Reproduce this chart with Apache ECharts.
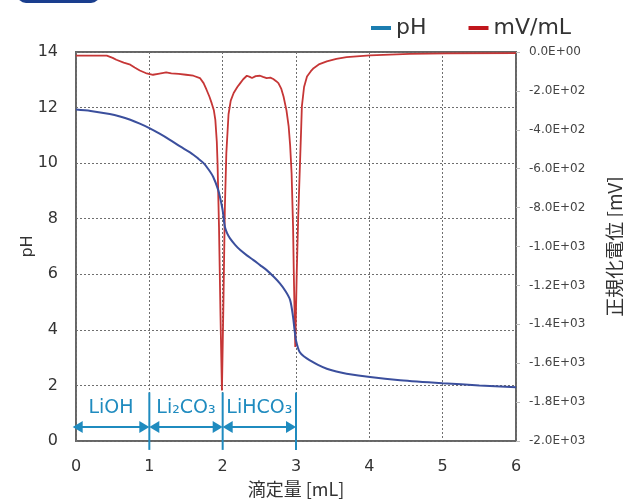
<!DOCTYPE html>
<html>
<head>
<meta charset="utf-8">
<script src="https://cdn.jsdelivr.net/npm/echarts@6/dist/echarts.min.js"></script>
<style>
  html, body { margin: 0; padding: 0; background: #fff; }
  #main { width: 623px; height: 499px; }
</style>
</head>
<body>
<div id="main"></div>
<script>
// 滴定量 [mL] / pH
var phData = [
  [0, 11.93], [0.2, 11.88], [0.46, 11.77], [0.6, 11.68], [0.74, 11.56], [0.87, 11.42],
  [1.0, 11.26], [1.14, 11.06], [1.28, 10.84], [1.42, 10.6], [1.56, 10.38], [1.66, 10.18],
  [1.74, 10.0], [1.80, 9.8], [1.87, 9.51], [1.94, 9.03], [1.97, 8.7], [2.0, 8.3],
  [2.03, 7.71], [2.06, 7.48], [2.10, 7.29], [2.17, 7.06], [2.24, 6.87], [2.33, 6.68],
  [2.42, 6.51], [2.51, 6.33], [2.60, 6.15], [2.70, 5.9], [2.78, 5.67], [2.86, 5.38],
  [2.92, 5.07], [2.96, 4.46], [2.98, 4.0], [3.0, 3.62], [3.05, 3.20], [3.12, 3.02],
  [3.19, 2.90], [3.3, 2.74], [3.42, 2.60], [3.55, 2.5], [3.69, 2.42], [4.01, 2.30],
  [4.42, 2.19], [5.0, 2.08], [5.5, 2.0], [6.0, 1.93]
];
// 滴定量 [mL] / 正規化電位 [mV]
var mvData = [
  [0, -19], [0.2, -19], [0.42, -19], [0.5, -30], [0.55, -40], [0.65, -55], [0.74, -65],
  [0.8, -80], [0.87, -95], [0.95, -108], [1.05, -117], [1.12, -112], [1.23, -105],
  [1.3, -110], [1.4, -112], [1.5, -117], [1.6, -122], [1.69, -134], [1.74, -160],
  [1.78, -194], [1.82, -230], [1.85, -263], [1.88, -300], [1.90, -349], [1.92, -460],
  [1.93, -570], [1.95, -900], [1.97, -1350], [1.99, -1740], [2.01, -1300], [2.03, -800],
  [2.05, -520], [2.08, -320], [2.11, -250], [2.15, -211], [2.2, -180], [2.24, -160],
  [2.28, -140], [2.33, -122], [2.37, -128], [2.40, -134], [2.45, -124], [2.51, -122],
  [2.55, -128], [2.60, -134], [2.65, -132], [2.69, -139], [2.73, -150], [2.76, -160],
  [2.8, -190], [2.83, -229], [2.87, -300], [2.90, -383], [2.92, -480], [2.94, -623],
  [2.96, -900], [2.97, -1139], [2.99, -1517], [3.01, -1138], [3.03, -850], [3.05, -623],
  [3.07, -400], [3.08, -280], [3.11, -180], [3.15, -126], [3.2, -100], [3.24, -83],
  [3.32, -62], [3.42, -48], [3.55, -35], [3.69, -26], [4.01, -17], [4.55, -10],
  [5.05, -7], [6.0, -6]
];
// 区間ラベル [start, end, name index]
var regionNames = ['LiOH', 'Li₂CO₃', 'LiHCO₃'];
var regionSpans = [[-0.045, 1, 0], [1, 2, 1], [2, 3, 2]];
var regionMarks = [1, 2, 3];
var xTicks = [0, 1, 2, 3, 4, 5, 6];
var phTicks = [0, 2, 4, 6, 8, 10, 12, 14];
var mvTicks = [-2000, 0]; // step 200

var annColor = '#1f8bbf';
var txt = '#333';
var arrowPh = 0.5;

function sciLabel(v) {
  var s = Number(v).toExponential(1);   // "-2.0e+2"
  var p = s.split('e');
  var e = p[1];
  var sign = e.charAt(0) === '-' ? '-' : '+';
  var d = e.replace('+', '').replace('-', '');
  if (d.length < 2) d = '0' + d;
  return p[0] + 'E' + sign + d;
}

function renderSpan(params, api) {
  var a = api.coord([api.value(0), arrowPh]);
  var b = api.coord([api.value(1), arrowPh]);
  var y = a[1], h = 6, l = 10;
  return {
    type: 'group',
    children: [
      { type: 'line', shape: { x1: a[0] + 6, y1: y, x2: b[0] - 6, y2: y },
        style: { stroke: annColor, lineWidth: 2 } },
      { type: 'polygon', shape: { points: [[a[0], y], [a[0] + l, y - h], [a[0] + l, y + h]] },
        style: { fill: annColor } },
      { type: 'polygon', shape: { points: [[b[0], y], [b[0] - l, y - h], [b[0] - l, y + h]] },
        style: { fill: annColor } },
      { type: 'text',
        style: { text: regionNames[api.value(2)], x: (a[0] + b[0]) / 2, y: y - 10,
          align: 'center', verticalAlign: 'bottom',
          fontSize: 19, fontFamily: 'DejaVu Sans', fill: annColor } }
    ]
  };
}

function renderMark(params, api) {
  var t = api.coord([api.value(0), 1.75]);
  var b = api.coord([api.value(0), -0.32]);
  return { type: 'line', shape: { x1: t[0], y1: t[1], x2: b[0], y2: b[1] },
    style: { stroke: annColor, lineWidth: 2 } };
}

var chart = echarts.init(document.getElementById('main'));
chart.setOption({
  animation: false,
  backgroundColor: '#fff',
  graphic: [{
    type: 'rect', left: 17, top: -16,
    shape: { width: 83, height: 19, r: 9 },
    style: { fill: '#1a3e8e' }
  }],
  legend: {
    left: 366, top: 12,
    icon: 'rect', itemWidth: 20, itemHeight: 4, itemGap: 42,
    textStyle: { fontSize: 22, color: txt, fontFamily: 'DejaVu Sans' },
    data: [
      { name: 'pH', itemStyle: { color: '#1c7db0' } },
      { name: 'mV/mL', itemStyle: { color: '#c0161c' } }
    ]
  },
  grid: {
    left: 76, right: 107, top: 52, bottom: 58,
    outerBoundsMode: 'none', containLabel: false,
    show: true, borderColor: '#666', borderWidth: 2, backgroundColor: 'transparent'
  },
  xAxis: {
    type: 'value', min: xTicks[0], max: xTicks[xTicks.length - 1], interval: 1,
    name: '滴定量 [mL]', nameLocation: 'middle', nameGap: 36,
    nameTextStyle: { fontSize: 18, color: txt, fontFamily: 'Noto Sans CJK JP' },
    axisLine: { show: false }, axisTick: { show: false },
    axisLabel: { fontSize: 16, color: txt, margin: 18, fontFamily: 'DejaVu Sans' },
    splitLine: { show: true, lineStyle: { color: '#6f6f6f', type: [2, 2], width: 1 } }
  },
  yAxis: [{
    type: 'value', min: phTicks[0], max: phTicks[phTicks.length - 1], interval: 2,
    name: 'pH', nameLocation: 'middle', nameGap: 40, nameMoveOverlap: false,
    nameTextStyle: { fontSize: 16, color: txt, fontFamily: 'DejaVu Sans' },
    axisLine: { show: false }, axisTick: { show: false },
    axisLabel: { fontSize: 16, color: txt, margin: 18, fontFamily: 'DejaVu Sans' },
    splitLine: { show: true, lineStyle: { color: '#6f6f6f', type: [2, 2], width: 1 } }
  }, {
    type: 'value', min: mvTicks[0], max: mvTicks[1], interval: 200,
    position: 'right',
    name: '正規化電位 [mV]', nameLocation: 'middle', nameGap: 89,
    nameTextStyle: { fontSize: 19, color: txt, fontFamily: 'Noto Sans CJK JP' },
    axisLine: { show: false },
    axisTick: { show: true, length: 4, lineStyle: { color: '#bbb' } },
    axisLabel: { fontSize: 12, color: '#444', margin: 13, fontFamily: 'DejaVu Sans',
      formatter: sciLabel },
    splitLine: { show: false }
  }],
  series: [{
    name: 'pH', type: 'line', yAxisIndex: 0, data: phData,
    showSymbol: false, smooth: 0.3,
    lineStyle: { color: '#3b4f9d', width: 2 },
    itemStyle: { color: '#3b4f9d' },
    z: 3
  }, {
    name: 'mV/mL', type: 'line', yAxisIndex: 1, data: mvData,
    showSymbol: false,
    lineStyle: { color: '#c63636', width: 1.8 },
    itemStyle: { color: '#c63636' },
    z: 2
  }, {
    type: 'custom', yAxisIndex: 0, clip: false, silent: true, z: 4,
    renderItem: renderSpan, data: regionSpans
  }, {
    type: 'custom', yAxisIndex: 0, clip: false, silent: true, z: 4,
    renderItem: renderMark, data: regionMarks.map(function (v) { return [v, 0]; })
  }]
});
</script>
</body>
</html>
